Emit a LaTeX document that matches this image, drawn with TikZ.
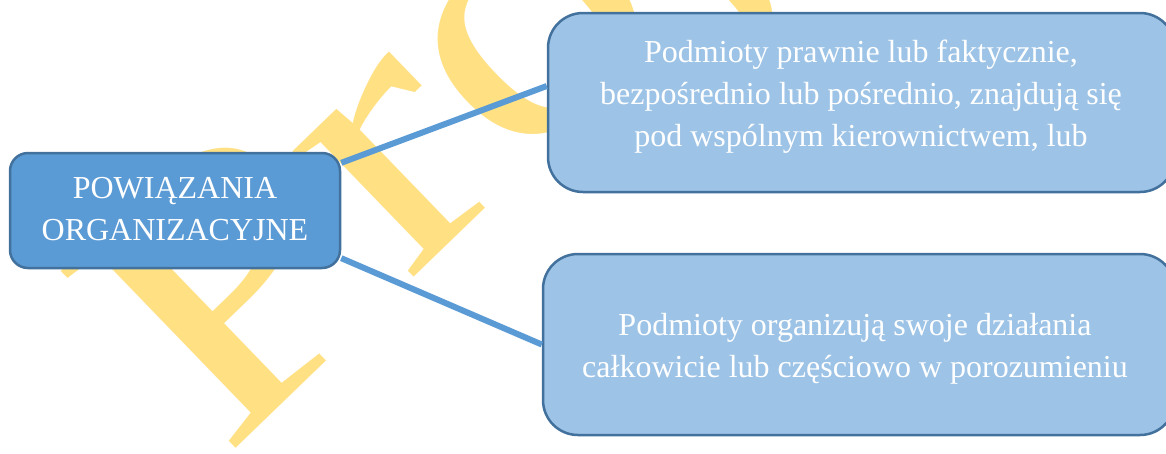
\documentclass[tikz,border=0pt]{standalone}
\usepackage{fontspec}
\setmainfont{Liberation Serif}
\definecolor{mainblue}{RGB}{91,155,213}
\definecolor{lightblue}{RGB}{157,195,230}
\definecolor{edgeblue}{RGB}{65,113,156}
\definecolor{wmyellow}{RGB}{255,224,130}
\begin{document}
\begin{tikzpicture}[x=1pt,y=-1pt,
  box/.style={draw=edgeblue, line width=2.5pt, inner sep=0pt},
  mainbox/.style={box, fill=mainblue, rounded corners=18pt},
  subbox/.style={box, fill=lightblue, rounded corners=35pt},
  txt/.style={text=white, align=center, inner sep=0pt, font=\fontsize{32}{42}\selectfont},
  conn/.style={draw=mainblue, line width=6pt},
  wm/.style={text=wmyellow, font=\fontsize{380}{380}\selectfont, inner sep=0pt}]
\useasboundingbox (0,0) rectangle (1166,453);
\clip (0,0) rectangle (1166,453);
\fill[white] (0,0) rectangle (1166,453);
\node[wm, rotate=44, xscale=1.2, anchor=base west] (wm) at (224.5,459.7) {Projekt};
\node[mainbox, minimum width=330pt, minimum height=115pt] (root) at (175,210.5) {};
\node[subbox, minimum width=627pt, minimum height=179pt] (top) at (861.5,102.5) {};
\node[subbox, minimum width=632pt, minimum height=181pt] (bot) at (859,344.5) {};
\node[txt] (roottxt) at (175,209.5) {POWIĄZANIA\\ORGANIZACYJNE};
\node[txt] (toptxt) at (861,96.5) {Podmioty prawnie lub faktycznie,\\bezpośrednio lub pośrednio, znajdują się\\pod wspólnym kierownictwem, lub};
\node[txt] (bottxt) at (855,349) {Podmioty organizują swoje działania\\całkowicie lub częściowo w porozumieniu};
\draw[conn] (root.16) -- (top.177.7);
\draw[conn] (root.-16) -- (bot.180);
\end{tikzpicture}
\end{document}
